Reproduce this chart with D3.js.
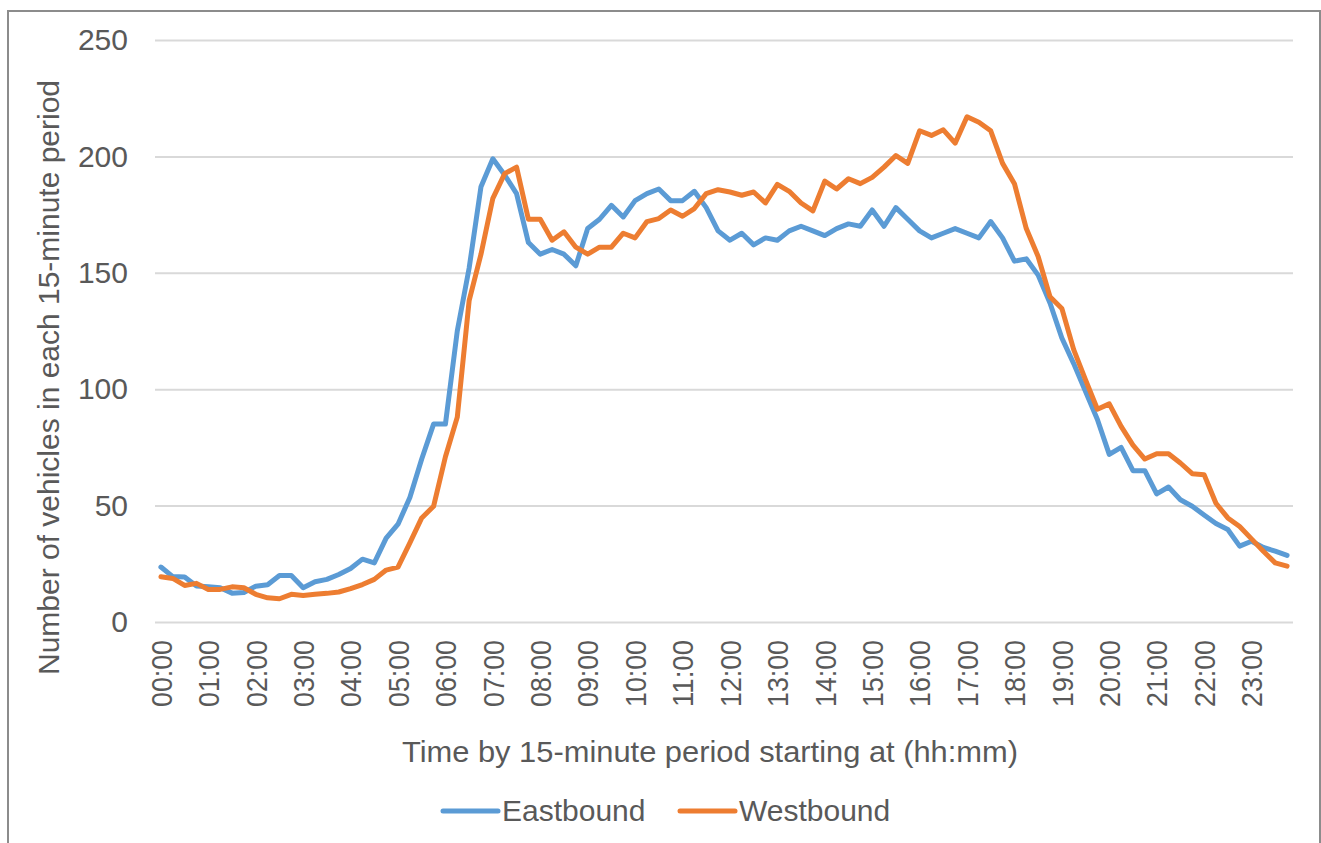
<!DOCTYPE html>
<html lang="en">
<head>
<meta charset="UTF-8">
<title>Vehicles per 15-minute period</title>
<style>
  body { margin: 0; background: #fff; }
  svg text { font-family: "Liberation Sans", Arial, sans-serif; fill: #595959; }
</style>
</head>
<body>
<div id="chart"></div>
<script src="https://d3js.org/d3.v7.min.js"></script>
<script>
// hourly tick labels, periods are built from these
const hourLabels = ["00","01","02","03","04","05","06","07","08","09","10","11",
                    "12","13","14","15","16","17","18","19","20","21","22","23"];
const minuteLabels = ["00","15","30","45"];
const yTicks = [0, 50, 100, 150, 200, 250];

// counts, one per 15-minute period
const eastbound = [
  23.6, 19.5, 19.3, 15.5, 15.1, 14.7, 12.4, 12.7,
  15.4, 16.0, 20.0, 20.0, 14.7, 17.3, 18.3, 20.4,
  23.0, 27.0, 25.4, 36.0, 42.0, 53.5, 70.0, 85.0,
  85.0, 125, 152, 187, 199, 192, 184, 163,
  158, 160, 158, 153, 169, 173, 179, 174,
  181, 184, 186, 181, 181, 185, 178, 168,
  164, 167, 162, 165, 164, 168, 170, 168,
  166, 169, 171, 170, 177, 170, 178, 173,
  168, 165, 167, 169, 167, 165, 172, 165,
  155, 156, 149, 137, 122, 111, 99, 87,
  72, 75, 65, 65, 55, 58, 52.5, 49.7,
  46, 42.3, 39.7, 32.6, 34.7, 32, 30.4, 28.6
];
const westbound = [
  19.4, 18.7, 15.7, 16.6, 14.0, 14.0, 15.1, 14.7,
  11.9, 10.4, 10.0, 11.9, 11.4, 11.9, 12.3, 12.9,
  14.3, 16.1, 18.3, 22.3, 23.6, 34.0, 44.7, 49.7,
  71, 88, 138, 158, 182, 192.6, 195.4, 173,
  173, 164, 167.6, 161, 158, 161, 161, 167,
  165, 172, 173.3, 177, 174.3, 177.6, 184, 185.7,
  184.7, 183.3, 184.7, 180, 188, 185, 180, 176.6,
  189.4, 186, 190.4, 188.3, 191, 195.4, 200.4, 197,
  211, 209, 211.4, 205.7, 217, 214.7, 211, 197,
  188.3, 169, 157, 139.7, 134.7, 117, 104, 91.4,
  93.7, 84, 76, 70, 72.3, 72.3, 68.3, 63.7,
  63.3, 51, 44.7, 41, 35.7, 30.4, 25.4, 24
];
const seriesNames = ["Eastbound", "Westbound"];
const colors = ["#5B9BD5", "#ED7D31"];

const periods = hourLabels.flatMap(h => minuteLabels.map(m => h + ":" + m));
const hourTicks = hourLabels.map(h => h + ":00");

const W = 1321, H = 843;
const plot = { left: 155, right: 1293, top: 40, bottom: 622 };

const svg = d3.select("#chart").append("svg")
    .attr("width", W).attr("height", H);

// outer chart frame
svg.append("rect")
   .attr("x", 8).attr("y", 11)
   .attr("width", 1312).attr("height", 860)
   .attr("fill", "none").attr("stroke", "#8c8c8c").attr("stroke-width", 2);

const x = d3.scaleBand().domain(periods).range([plot.left, plot.right]);
const y = d3.scaleLinear().domain([0, 250]).range([plot.bottom, plot.top]);
const cx = p => x(p) + x.bandwidth() / 2;

// y axis with gridlines
const yAxis = svg.append("g")
   .attr("transform", `translate(${plot.left},0)`)
   .call(d3.axisLeft(y).tickValues(yTicks).tickSize(-(plot.right - plot.left)).tickPadding(27));
yAxis.select(".domain").remove();
yAxis.selectAll(".tick line").attr("stroke", "#d9d9d9").attr("stroke-width", 2);
yAxis.selectAll(".tick text")
   .attr("font-size", 30).attr("fill", "#595959")
   .attr("font-family", "Liberation Sans, Arial, sans-serif");

// x axis, hourly labels rotated
const xAxis = svg.append("g")
   .attr("transform", `translate(0,${plot.bottom})`)
   .call(d3.axisBottom(x).tickValues(hourTicks).tickSize(0));
xAxis.select(".domain").remove();
xAxis.selectAll(".tick text")
   .attr("font-size", 30).attr("fill", "#595959")
   .attr("font-family", "Liberation Sans, Arial, sans-serif")
   .attr("text-anchor", "end")
   .attr("transform", "rotate(-90)")
   .attr("x", -18).attr("y", 0).attr("dy", "0.36em")
   .attr("textLength", 67).attr("lengthAdjust", "spacingAndGlyphs");

// axis titles
svg.append("text")
   .attr("x", 710).attr("y", 762)
   .attr("text-anchor", "middle").attr("font-size", 30)
   .attr("textLength", 616).attr("lengthAdjust", "spacingAndGlyphs")
   .text("Time by 15-minute period starting at (hh:mm)");

svg.append("text")
   .attr("transform", "translate(59,377.5) rotate(-90)")
   .attr("text-anchor", "middle").attr("font-size", 30)
   .attr("textLength", 595).attr("lengthAdjust", "spacingAndGlyphs")
   .text("Number of vehicles in each 15-minute period");

// lines
const line = d3.line()
   .x((d, i) => cx(periods[i]))
   .y(d => y(d));

[eastbound, westbound].forEach((vals, k) => {
    svg.append("path")
       .datum(vals)
       .attr("fill", "none")
       .attr("stroke", colors[k])
       .attr("stroke-width", 5)
       .attr("stroke-linejoin", "round")
       .attr("stroke-linecap", "round")
       .attr("d", line);
});

// legend
const legendX = [443, 680];
seriesNames.forEach((name, k) => {
    svg.append("line")
       .attr("x1", legendX[k]).attr("x2", legendX[k] + 55)
       .attr("y1", 811).attr("y2", 811)
       .attr("stroke", colors[k]).attr("stroke-width", 5)
       .attr("stroke-linecap", "round");
    svg.append("text")
       .attr("x", legendX[k] + 59).attr("y", 821)
       .attr("font-size", 30)
       .text(name);
});
</script>
</body>
</html>
